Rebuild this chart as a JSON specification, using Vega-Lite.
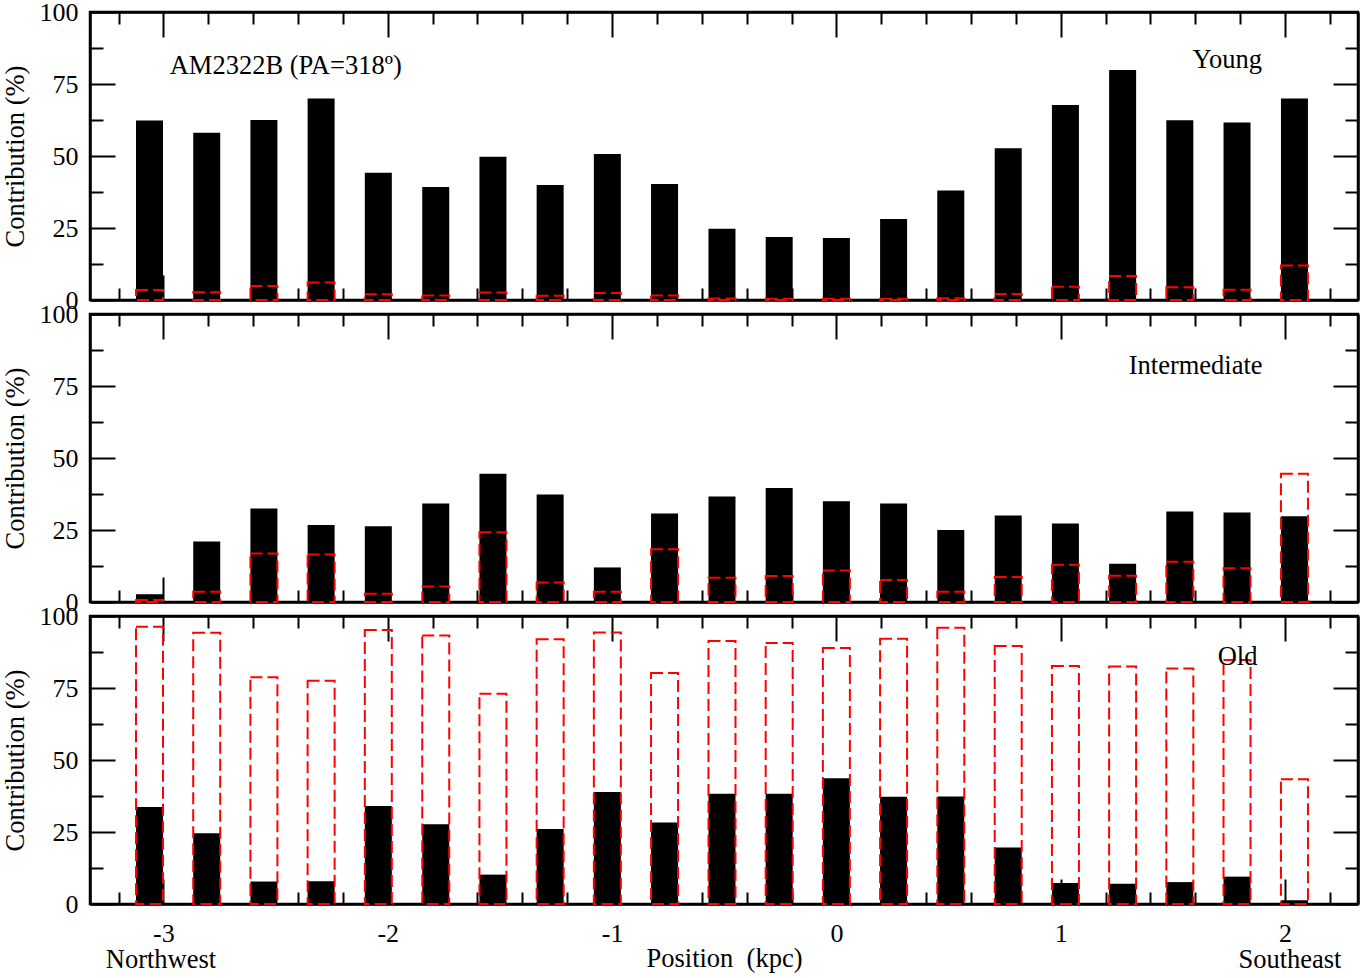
{
  "$schema": "https://vega.github.io/schema/vega-lite/v6.json",
  "background": "white",
  "padding": {"left": 0, "top": -3, "right": 2, "bottom": 4},
  "bounds": "flush",
  "spacing": 14,
  "datasets": {
    "bars": [
      {"pos": -3.062, "age": "Young", "kind": "light", "pct": 62.3},
      {"pos": -2.807, "age": "Young", "kind": "light", "pct": 58.1},
      {"pos": -2.552, "age": "Young", "kind": "light", "pct": 62.5},
      {"pos": -2.297, "age": "Young", "kind": "light", "pct": 70.0},
      {"pos": -2.042, "age": "Young", "kind": "light", "pct": 44.2},
      {"pos": -1.786, "age": "Young", "kind": "light", "pct": 39.2},
      {"pos": -1.531, "age": "Young", "kind": "light", "pct": 49.7},
      {"pos": -1.276, "age": "Young", "kind": "light", "pct": 39.9},
      {"pos": -1.021, "age": "Young", "kind": "light", "pct": 50.7},
      {"pos": -0.766, "age": "Young", "kind": "light", "pct": 40.3},
      {"pos": -0.51, "age": "Young", "kind": "light", "pct": 24.7},
      {"pos": -0.255, "age": "Young", "kind": "light", "pct": 21.9},
      {"pos": 0, "age": "Young", "kind": "light", "pct": 21.5},
      {"pos": 0.255, "age": "Young", "kind": "light", "pct": 28.1},
      {"pos": 0.51, "age": "Young", "kind": "light", "pct": 38.0},
      {"pos": 0.766, "age": "Young", "kind": "light", "pct": 52.7},
      {"pos": 1.021, "age": "Young", "kind": "light", "pct": 67.7},
      {"pos": 1.276, "age": "Young", "kind": "light", "pct": 79.9},
      {"pos": 1.531, "age": "Young", "kind": "light", "pct": 62.4},
      {"pos": 1.786, "age": "Young", "kind": "light", "pct": 61.6},
      {"pos": 2.042, "age": "Young", "kind": "light", "pct": 70.0},
      {"pos": -3.062, "age": "Young", "kind": "mass", "pct": 3.5},
      {"pos": -2.807, "age": "Young", "kind": "mass", "pct": 2.7},
      {"pos": -2.552, "age": "Young", "kind": "mass", "pct": 4.9},
      {"pos": -2.297, "age": "Young", "kind": "mass", "pct": 6.1},
      {"pos": -2.042, "age": "Young", "kind": "mass", "pct": 2.0},
      {"pos": -1.786, "age": "Young", "kind": "mass", "pct": 1.6},
      {"pos": -1.531, "age": "Young", "kind": "mass", "pct": 2.6},
      {"pos": -1.276, "age": "Young", "kind": "mass", "pct": 1.5},
      {"pos": -1.021, "age": "Young", "kind": "mass", "pct": 2.4},
      {"pos": -0.766, "age": "Young", "kind": "mass", "pct": 1.6},
      {"pos": -0.51, "age": "Young", "kind": "mass", "pct": 0.5},
      {"pos": -0.255, "age": "Young", "kind": "mass", "pct": 0.4},
      {"pos": 0, "age": "Young", "kind": "mass", "pct": 0.4},
      {"pos": 0.255, "age": "Young", "kind": "mass", "pct": 0.4},
      {"pos": 0.51, "age": "Young", "kind": "mass", "pct": 0.6},
      {"pos": 0.766, "age": "Young", "kind": "mass", "pct": 2.1},
      {"pos": 1.021, "age": "Young", "kind": "mass", "pct": 4.6},
      {"pos": 1.276, "age": "Young", "kind": "mass", "pct": 8.3},
      {"pos": 1.531, "age": "Young", "kind": "mass", "pct": 4.4},
      {"pos": 1.786, "age": "Young", "kind": "mass", "pct": 3.6},
      {"pos": 2.042, "age": "Young", "kind": "mass", "pct": 12.0},
      {"pos": -3.062, "age": "Intermediate", "kind": "light", "pct": 2.7},
      {"pos": -2.807, "age": "Intermediate", "kind": "light", "pct": 21.0},
      {"pos": -2.552, "age": "Intermediate", "kind": "light", "pct": 32.5},
      {"pos": -2.297, "age": "Intermediate", "kind": "light", "pct": 26.7},
      {"pos": -2.042, "age": "Intermediate", "kind": "light", "pct": 26.3},
      {"pos": -1.786, "age": "Intermediate", "kind": "light", "pct": 34.2},
      {"pos": -1.531, "age": "Intermediate", "kind": "light", "pct": 44.5},
      {"pos": -1.276, "age": "Intermediate", "kind": "light", "pct": 37.3},
      {"pos": -1.021, "age": "Intermediate", "kind": "light", "pct": 12.0},
      {"pos": -0.766, "age": "Intermediate", "kind": "light", "pct": 30.7},
      {"pos": -0.51, "age": "Intermediate", "kind": "light", "pct": 36.6},
      {"pos": -0.255, "age": "Intermediate", "kind": "light", "pct": 39.6},
      {"pos": 0, "age": "Intermediate", "kind": "light", "pct": 35.0},
      {"pos": 0.255, "age": "Intermediate", "kind": "light", "pct": 34.2},
      {"pos": 0.51, "age": "Intermediate", "kind": "light", "pct": 25.0},
      {"pos": 0.766, "age": "Intermediate", "kind": "light", "pct": 30.0},
      {"pos": 1.021, "age": "Intermediate", "kind": "light", "pct": 27.3},
      {"pos": 1.276, "age": "Intermediate", "kind": "light", "pct": 13.3},
      {"pos": 1.531, "age": "Intermediate", "kind": "light", "pct": 31.4},
      {"pos": 1.786, "age": "Intermediate", "kind": "light", "pct": 31.1},
      {"pos": 2.042, "age": "Intermediate", "kind": "light", "pct": 29.8},
      {"pos": -3.062, "age": "Intermediate", "kind": "mass", "pct": 0.7},
      {"pos": -2.807, "age": "Intermediate", "kind": "mass", "pct": 3.6},
      {"pos": -2.552, "age": "Intermediate", "kind": "mass", "pct": 16.8},
      {"pos": -2.297, "age": "Intermediate", "kind": "mass", "pct": 16.5},
      {"pos": -2.042, "age": "Intermediate", "kind": "mass", "pct": 2.9},
      {"pos": -1.786, "age": "Intermediate", "kind": "mass", "pct": 5.4},
      {"pos": -1.531, "age": "Intermediate", "kind": "mass", "pct": 24.2},
      {"pos": -1.276, "age": "Intermediate", "kind": "mass", "pct": 6.8},
      {"pos": -1.021, "age": "Intermediate", "kind": "mass", "pct": 3.6},
      {"pos": -0.766, "age": "Intermediate", "kind": "mass", "pct": 18.3},
      {"pos": -0.51, "age": "Intermediate", "kind": "mass", "pct": 8.4},
      {"pos": -0.255, "age": "Intermediate", "kind": "mass", "pct": 9.0},
      {"pos": 0, "age": "Intermediate", "kind": "mass", "pct": 10.9},
      {"pos": 0.255, "age": "Intermediate", "kind": "mass", "pct": 7.6},
      {"pos": 0.51, "age": "Intermediate", "kind": "mass", "pct": 3.6},
      {"pos": 0.766, "age": "Intermediate", "kind": "mass", "pct": 8.7},
      {"pos": 1.021, "age": "Intermediate", "kind": "mass", "pct": 12.9},
      {"pos": 1.276, "age": "Intermediate", "kind": "mass", "pct": 9.1},
      {"pos": 1.531, "age": "Intermediate", "kind": "mass", "pct": 14.0},
      {"pos": 1.786, "age": "Intermediate", "kind": "mass", "pct": 11.7},
      {"pos": 2.042, "age": "Intermediate", "kind": "mass", "pct": 44.5},
      {"pos": -3.062, "age": "Old", "kind": "light", "pct": 33.7},
      {"pos": -2.807, "age": "Old", "kind": "light", "pct": 24.6},
      {"pos": -2.552, "age": "Old", "kind": "light", "pct": 7.8},
      {"pos": -2.297, "age": "Old", "kind": "light", "pct": 7.9},
      {"pos": -2.042, "age": "Old", "kind": "light", "pct": 34.0},
      {"pos": -1.786, "age": "Old", "kind": "light", "pct": 27.7},
      {"pos": -1.531, "age": "Old", "kind": "light", "pct": 10.2},
      {"pos": -1.276, "age": "Old", "kind": "light", "pct": 26.0},
      {"pos": -1.021, "age": "Old", "kind": "light", "pct": 38.9},
      {"pos": -0.766, "age": "Old", "kind": "light", "pct": 28.3},
      {"pos": -0.51, "age": "Old", "kind": "light", "pct": 38.3},
      {"pos": -0.255, "age": "Old", "kind": "light", "pct": 38.3},
      {"pos": 0, "age": "Old", "kind": "light", "pct": 43.7},
      {"pos": 0.255, "age": "Old", "kind": "light", "pct": 37.2},
      {"pos": 0.51, "age": "Old", "kind": "light", "pct": 37.3},
      {"pos": 0.766, "age": "Old", "kind": "light", "pct": 19.6},
      {"pos": 1.021, "age": "Old", "kind": "light", "pct": 7.3},
      {"pos": 1.276, "age": "Old", "kind": "light", "pct": 7.0},
      {"pos": 1.531, "age": "Old", "kind": "light", "pct": 7.6},
      {"pos": 1.786, "age": "Old", "kind": "light", "pct": 9.5},
      {"pos": 2.042, "age": "Old", "kind": "light", "pct": 1.3},
      {"pos": -3.062, "age": "Old", "kind": "mass", "pct": 96.3},
      {"pos": -2.807, "age": "Old", "kind": "mass", "pct": 94.2},
      {"pos": -2.552, "age": "Old", "kind": "mass", "pct": 78.7},
      {"pos": -2.297, "age": "Old", "kind": "mass", "pct": 77.5},
      {"pos": -2.042, "age": "Old", "kind": "mass", "pct": 95.1},
      {"pos": -1.786, "age": "Old", "kind": "mass", "pct": 93.2},
      {"pos": -1.531, "age": "Old", "kind": "mass", "pct": 73.0},
      {"pos": -1.276, "age": "Old", "kind": "mass", "pct": 91.9},
      {"pos": -1.021, "age": "Old", "kind": "mass", "pct": 94.3},
      {"pos": -0.766, "age": "Old", "kind": "mass", "pct": 80.2},
      {"pos": -0.51, "age": "Old", "kind": "mass", "pct": 91.3},
      {"pos": -0.255, "age": "Old", "kind": "mass", "pct": 90.6},
      {"pos": 0, "age": "Old", "kind": "mass", "pct": 88.9},
      {"pos": 0.255, "age": "Old", "kind": "mass", "pct": 92.1},
      {"pos": 0.51, "age": "Old", "kind": "mass", "pct": 95.9},
      {"pos": 0.766, "age": "Old", "kind": "mass", "pct": 89.6},
      {"pos": 1.021, "age": "Old", "kind": "mass", "pct": 82.6},
      {"pos": 1.276, "age": "Old", "kind": "mass", "pct": 82.5},
      {"pos": 1.531, "age": "Old", "kind": "mass", "pct": 81.8},
      {"pos": 1.786, "age": "Old", "kind": "mass", "pct": 84.7},
      {"pos": 2.042, "age": "Old", "kind": "mass", "pct": 43.3}
    ]
  },
  "vconcat": [
    {
      "width": 1268,
      "height": 288,
      "data": {"name": "bars"},
      "transform": [{"filter": "datum.age === 'Young'"}],
      "layer": [
        {
          "transform": [{"filter": "datum.kind === 'light'"}],
          "mark": {"type": "bar", "orient": "vertical", "size": 27, "color": "black"},
          "encoding": {
            "x": {"field": "pos", "type": "quantitative", "scale": {"domain": [-3.305, 2.303], "nice": false, "zero": false},
              "axis": {"orient": "bottom", "values": [-3.2,-3,-2.8,-2.6,-2.4,-2.2,-2,-1.8,-1.6,-1.4,-1.2,-1,-0.8,-0.6,-0.4,-0.2,0,0.2,0.4,0.6,0.8,1,1.2,1.4,1.6,1.8,2,2.2],
                "tickSize": {"condition": {"test": "datum.value % 1 === 0", "value": -25}, "value": -12}, "labels": false, "title": null}},
            "y": {"field": "pct", "type": "quantitative", "scale": {"domain": [0, 100], "nice": false},
              "axis": {"orient": "left", "values": [0,12.5,25,37.5,50,62.5,75,87.5,100],
                "tickSize": {"condition": {"test": "datum.value % 25 === 0", "value": -25}, "value": -13},
                "labelExpr": "datum.value % 25 === 0 ? datum.label : ''", "labelPadding": 37,
                "title": "Contribution (%)", "titleX": -67, "titleBaseline": "alphabetic"}}
          }
        },
        {
          "transform": [{"filter": "datum.kind === 'mass'"}],
          "mark": {"type": "bar", "orient": "vertical", "size": 27, "fill": "transparent", "stroke": "#ff0000", "strokeWidth": 2, "strokeDash": [12, 5]},
          "encoding": {
            "x": {"field": "pos", "type": "quantitative", "scale": {"domain": [-3.305, 2.303], "nice": false, "zero": false},
              "axis": {"orient": "top", "values": [-3.2,-3,-2.8,-2.6,-2.4,-2.2,-2,-1.8,-1.6,-1.4,-1.2,-1,-0.8,-0.6,-0.4,-0.2,0,0.2,0.4,0.6,0.8,1,1.2,1.4,1.6,1.8,2,2.2],
                "tickSize": {"condition": {"test": "datum.value % 1 === 0", "value": -25}, "value": -12}, "labels": false, "title": null}},
            "y": {"field": "pct", "type": "quantitative", "scale": {"domain": [0, 100], "nice": false},
              "axis": {"orient": "right", "values": [0,12.5,25,37.5,50,62.5,75,87.5,100],
                "tickSize": {"condition": {"test": "datum.value % 25 === 0", "value": -25}, "value": -13}, "labels": false, "title": null}}
          }
        },
        {
          "data": {"values": [{}]},
          "mark": {"type": "text", "text": "AM2322B (PA=318º)", "align": "left", "baseline": "alphabetic"},
          "encoding": {
            "x": {"datum": -2.972, "type": "quantitative", "scale": {"domain": [-3.305, 2.303], "nice": false, "zero": false}, "axis": null},
            "y": {"datum": 78.4, "type": "quantitative", "scale": {"domain": [0, 100], "nice": false}, "axis": null}
          }
        },
        {
          "data": {"values": [{}]},
          "mark": {"type": "text", "text": "Young", "align": "right", "baseline": "alphabetic"},
          "encoding": {
            "x": {"datum": 1.897, "type": "quantitative", "scale": {"domain": [-3.305, 2.303], "nice": false, "zero": false}, "axis": null},
            "y": {"datum": 80.5, "type": "quantitative", "scale": {"domain": [0, 100], "nice": false}, "axis": null}
          }
        }
      ],
      "resolve": {"axis": {"x": "independent", "y": "independent"}}
    },
    {
      "width": 1268,
      "height": 288,
      "data": {"name": "bars"},
      "transform": [{"filter": "datum.age === 'Intermediate'"}],
      "layer": [
        {
          "transform": [{"filter": "datum.kind === 'light'"}],
          "mark": {"type": "bar", "orient": "vertical", "size": 27, "color": "black"},
          "encoding": {
            "x": {"field": "pos", "type": "quantitative", "scale": {"domain": [-3.305, 2.303], "nice": false, "zero": false},
              "axis": {"orient": "bottom", "values": [-3.2,-3,-2.8,-2.6,-2.4,-2.2,-2,-1.8,-1.6,-1.4,-1.2,-1,-0.8,-0.6,-0.4,-0.2,0,0.2,0.4,0.6,0.8,1,1.2,1.4,1.6,1.8,2,2.2],
                "tickSize": {"condition": {"test": "datum.value % 1 === 0", "value": -25}, "value": -12}, "labels": false, "title": null}},
            "y": {"field": "pct", "type": "quantitative", "scale": {"domain": [0, 100], "nice": false},
              "axis": {"orient": "left", "values": [0,12.5,25,37.5,50,62.5,75,87.5,100],
                "tickSize": {"condition": {"test": "datum.value % 25 === 0", "value": -25}, "value": -13},
                "labelExpr": "datum.value % 25 === 0 ? datum.label : ''", "labelPadding": 37,
                "title": "Contribution (%)", "titleX": -67, "titleBaseline": "alphabetic"}}
          }
        },
        {
          "transform": [{"filter": "datum.kind === 'mass'"}],
          "mark": {"type": "bar", "orient": "vertical", "size": 27, "fill": "transparent", "stroke": "#ff0000", "strokeWidth": 2, "strokeDash": [12, 5]},
          "encoding": {
            "x": {"field": "pos", "type": "quantitative", "scale": {"domain": [-3.305, 2.303], "nice": false, "zero": false},
              "axis": {"orient": "top", "values": [-3.2,-3,-2.8,-2.6,-2.4,-2.2,-2,-1.8,-1.6,-1.4,-1.2,-1,-0.8,-0.6,-0.4,-0.2,0,0.2,0.4,0.6,0.8,1,1.2,1.4,1.6,1.8,2,2.2],
                "tickSize": {"condition": {"test": "datum.value % 1 === 0", "value": -25}, "value": -12}, "labels": false, "title": null}},
            "y": {"field": "pct", "type": "quantitative", "scale": {"domain": [0, 100], "nice": false},
              "axis": {"orient": "right", "values": [0,12.5,25,37.5,50,62.5,75,87.5,100],
                "tickSize": {"condition": {"test": "datum.value % 25 === 0", "value": -25}, "value": -13}, "labels": false, "title": null}}
          }
        },
        {
          "data": {"values": [{}]},
          "mark": {"type": "text", "text": "Intermediate", "align": "right", "baseline": "alphabetic"},
          "encoding": {
            "x": {"datum": 1.9, "type": "quantitative", "scale": {"domain": [-3.305, 2.303], "nice": false, "zero": false}, "axis": null},
            "y": {"datum": 79.3, "type": "quantitative", "scale": {"domain": [0, 100], "nice": false}, "axis": null}
          }
        }
      ],
      "resolve": {"axis": {"x": "independent", "y": "independent"}}
    },
    {
      "width": 1268,
      "height": 288,
      "data": {"name": "bars"},
      "transform": [{"filter": "datum.age === 'Old'"}],
      "layer": [
        {
          "transform": [{"filter": "datum.kind === 'light'"}],
          "mark": {"type": "bar", "orient": "vertical", "size": 27, "color": "black"},
          "encoding": {
            "x": {"field": "pos", "type": "quantitative", "scale": {"domain": [-3.305, 2.303], "nice": false, "zero": false},
              "axis": {"orient": "bottom", "values": [-3.2,-3,-2.8,-2.6,-2.4,-2.2,-2,-1.8,-1.6,-1.4,-1.2,-1,-0.8,-0.6,-0.4,-0.2,0,0.2,0.4,0.6,0.8,1,1.2,1.4,1.6,1.8,2,2.2],
                "tickSize": {"condition": {"test": "datum.value % 1 === 0", "value": -25}, "value": -12},
                "labelExpr": "datum.value % 1 === 0 ? '' + datum.value : ''", "labelPadding": 41,
                "title": "Position\u00a0\u00a0(kpc)", "titleY": 62, "titleBaseline": "alphabetic"}},
            "y": {"field": "pct", "type": "quantitative", "scale": {"domain": [0, 100], "nice": false},
              "axis": {"orient": "left", "values": [0,12.5,25,37.5,50,62.5,75,87.5,100],
                "tickSize": {"condition": {"test": "datum.value % 25 === 0", "value": -25}, "value": -13},
                "labelExpr": "datum.value % 25 === 0 ? datum.label : ''", "labelPadding": 37,
                "title": "Contribution (%)", "titleX": -67, "titleBaseline": "alphabetic"}}
          }
        },
        {
          "transform": [{"filter": "datum.kind === 'mass'"}],
          "mark": {"type": "bar", "orient": "vertical", "size": 27, "fill": "transparent", "stroke": "#ff0000", "strokeWidth": 2, "strokeDash": [12, 5]},
          "encoding": {
            "x": {"field": "pos", "type": "quantitative", "scale": {"domain": [-3.305, 2.303], "nice": false, "zero": false},
              "axis": {"orient": "top", "values": [-3.2,-3,-2.8,-2.6,-2.4,-2.2,-2,-1.8,-1.6,-1.4,-1.2,-1,-0.8,-0.6,-0.4,-0.2,0,0.2,0.4,0.6,0.8,1,1.2,1.4,1.6,1.8,2,2.2],
                "tickSize": {"condition": {"test": "datum.value % 1 === 0", "value": -25}, "value": -12}, "labels": false, "title": null}},
            "y": {"field": "pct", "type": "quantitative", "scale": {"domain": [0, 100], "nice": false},
              "axis": {"orient": "right", "values": [0,12.5,25,37.5,50,62.5,75,87.5,100],
                "tickSize": {"condition": {"test": "datum.value % 25 === 0", "value": -25}, "value": -13}, "labels": false, "title": null}}
          }
        },
        {
          "data": {"values": [{}]},
          "mark": {"type": "text", "text": "Old", "align": "right", "baseline": "alphabetic"},
          "encoding": {
            "x": {"datum": 1.877, "type": "quantitative", "scale": {"domain": [-3.305, 2.303], "nice": false, "zero": false}, "axis": null},
            "y": {"datum": 83.0, "type": "quantitative", "scale": {"domain": [0, 100], "nice": false}, "axis": null}
          }
        },
        {
          "data": {"values": [{}]},
          "mark": {"type": "text", "text": "Northwest", "align": "center", "baseline": "alphabetic"},
          "encoding": {
            "x": {"datum": -3.011, "type": "quantitative", "scale": {"domain": [-3.305, 2.303], "nice": false, "zero": false}, "axis": null},
            "y": {"datum": -22.1, "type": "quantitative", "scale": {"domain": [0, 100], "nice": false}, "axis": null}
          }
        },
        {
          "data": {"values": [{}]},
          "mark": {"type": "text", "text": "Southeast", "align": "center", "baseline": "alphabetic"},
          "encoding": {
            "x": {"datum": 2.022, "type": "quantitative", "scale": {"domain": [-3.305, 2.303], "nice": false, "zero": false}, "axis": null},
            "y": {"datum": -22.1, "type": "quantitative", "scale": {"domain": [0, 100], "nice": false}, "axis": null}
          }
        }
      ],
      "resolve": {"axis": {"x": "independent", "y": "independent"}}
    }
  ],
  "config": {
    "view": {"stroke": "black", "strokeWidth": 2.5},
    "axis": {
      "grid": false,
      "domainColor": "black",
      "domainWidth": 2.5,
      "tickColor": "black",
      "tickWidth": 2,
      "labelFont": "Liberation Serif",
      "labelFontSize": 26,
      "labelColor": "black",
      "labelOverlap": false,
      "labelFlush": false,
      "labelBound": false,
      "titleFont": "Liberation Serif",
      "titleFontSize": 26.5,
      "titleFontWeight": "normal",
      "titleColor": "black"
    },
    "text": {"font": "Liberation Serif", "fontSize": 26.5, "color": "black"}
  }
}
